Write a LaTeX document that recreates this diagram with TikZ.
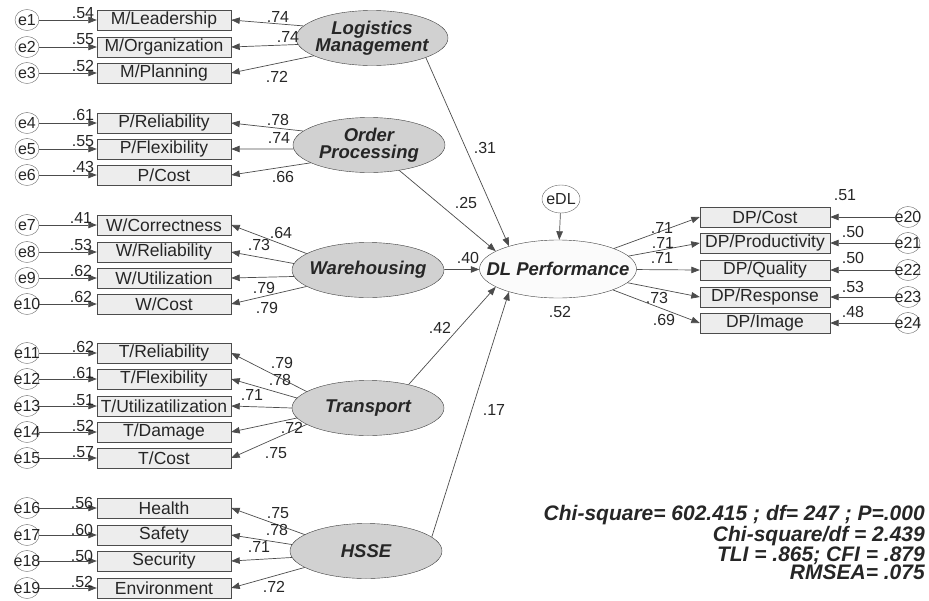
\documentclass[tikz,border=0pt]{standalone}
\usepackage{fontspec}
\setmainfont{Liberation Sans}
\usetikzlibrary{arrows.meta,shapes.geometric}

\begin{document}
\begin{tikzpicture}[x=1pt, y=-1pt,
  ind/.style={draw=black!70, fill=gray!14, minimum width=134pt, minimum height=20pt, inner sep=0pt,
              font=\fontsize{17.5}{18}\selectfont, text=black!85},
  dpind/.style={ind, minimum width=130pt},
  err/.style={ellipse, draw=black!60, fill=white, minimum width=24pt, minimum height=21pt, inner sep=0pt},
  lat/.style={ellipse, draw=black!75, fill=gray!36, minimum width=152pt, minimum height=55pt, inner sep=0pt},
  lattxt/.style={font=\fontsize{18.5}{17}\selectfont\bfseries\itshape, text=black!85, align=center, inner sep=0pt},
  coef/.style={font=\fontsize{16}{16}\selectfont, text=black!85, inner sep=0pt},
  arr/.style={-{Triangle[length=8.5pt,width=6.5pt]}, draw=black!70, line width=0.7pt},
  gofbox/.style={font=\fontsize{21}{17}\selectfont\bfseries\itshape, text=black!85, align=right, inner sep=0pt},
  every label/.style={font=\fontsize{16}{16}\selectfont, text=black!85, inner sep=0pt}]
\useasboundingbox (0,0) rectangle (929,600);

% ---------- Logistics Management ----------
\node[lat, label={[lattxt]center:{Logistics\\Management}}] (LM) at (372,38) {};
\node[ind] (m1) at (164,20) {M/Leadership};
\node[ind] (m2) at (164,47) {M/Organization};
\node[ind] (m3) at (164,73) {M/Planning};

% ---------- Order Processing ----------
\node[lat, label={[lattxt]center:{Order\\Processing}}] (OP) at (369,145) {};
\node[ind] (p1) at (164,123) {P/Reliability};
\node[ind] (p2) at (164,149) {P/Flexibility};
\node[ind] (p3) at (164,175) {P/Cost};

% ---------- Warehousing ----------
\node[lat, label={[lattxt]center:Warehousing}] (WH) at (368,270) {};
\node[ind] (w1) at (164,225) {W/Correctness};
\node[ind] (w2) at (164,252) {W/Reliability};
\node[ind] (w3) at (164,278) {W/Utilization};
\node[ind] (w4) at (164,304) {W/Cost};

% ---------- Transport ----------
\node[lat, label={[lattxt]center:Transport}] (TR) at (368,408) {};
\node[ind] (t1) at (164,353) {T/Reliability};
\node[ind] (t2) at (164,379) {T/Flexibility};
\node[ind] (t3) at (164,406) {T/Utilizatilization};
\node[ind] (t4) at (164,432) {T/Damage};
\node[ind] (t5) at (164,458) {T/Cost};

% ---------- HSSE ----------
\node[lat, label={[lattxt]center:HSSE}] (HS) at (366,551) {};
\node[ind] (h1) at (164,508) {Health};
\node[ind] (h2) at (164,535) {Safety};
\node[ind] (h3) at (164,561) {Security};
\node[ind] (h4) at (164,588) {Environment};

% ---------- DL Performance ----------
\node[lat, fill=gray!3, minimum width=157pt, minimum height=58pt, label={[lattxt]center:DL Performance}] (DL) at (558,269) {};
\node[err, minimum width=38pt, minimum height=28pt, label={center:eDL}] (eDL) at (561,199) {};
\node[dpind] (d1) at (765,217) {DP/Cost};
\node[dpind] (d2) at (765,243) {DP/Productivity};
\node[dpind] (d3) at (765,270) {DP/Quality};
\node[dpind] (d4) at (765,297) {DP/Response};
\node[dpind] (d5) at (765,323) {DP/Image};

% ---------- error terms ----------
\foreach \e/\y in {1/20, 2/47, 3/73, 4/123, 5/149, 6/175, 7/225, 8/252, 9/278, 10/304,
                   11/353, 12/379, 13/406, 14/432, 15/458, 16/508, 17/535, 18/561, 19/588}
  \node[err, label={center:e\e}] (e\e) at (27,\y) {};
\foreach \e/\y in {20/217, 21/243, 22/270, 23/297, 24/323}
  \node[err, label={center:e\e}] (e\e) at (908,\y) {};

\foreach \e/\b in {1/m1, 2/m2, 3/m3, 4/p1, 5/p2, 6/p3, 7/w1, 8/w2, 9/w3, 10/w4,
                   11/t1, 12/t2, 13/t3, 14/t4, 15/t5, 16/h1, 17/h2, 18/h3, 19/h4,
                   20/d1, 21/d2, 22/d3, 23/d4, 24/d5}
  \draw[arr] (e\e) -- (\b);

% ---------- loadings ----------
\foreach \b/\a in {m1/170, m2/185, m3/197}        \draw[arr] (LM.\a) -- (\b.east);
\foreach \b/\a in {p1/168, p2/183, p3/197}        \draw[arr] (OP.\a) -- (\b.east);
\foreach \b/\a in {w1/165, w2/175, w3/185, w4/195} \draw[arr] (WH.\a) -- (\b.east);
\foreach \b/\a in {t1/165, t2/172, t3/180, t4/188, t5/195} \draw[arr] (TR.\a) -- (\b.east);
\foreach \b/\a in {h1/165, h2/175, h3/185, h4/195} \draw[arr] (HS.\a) -- (\b.east);
\foreach \b in {d1,d2,d3,d4,d5}                   \draw[arr] (DL) -- (\b.west);

% ---------- structural paths ----------
\draw[arr] (LM.-20) -- (DL.155);
\draw[arr] (OP.-40) -- (DL.164);
\draw[arr] (WH) -- (DL);
\draw[arr] (TR.30) -- (DL.196);
\draw[arr] (HS.12) -- (DL.205);
\draw[arr] (eDL) -- (DL);

% ---------- coefficients ----------
\foreach \v/\x/\y [count=\k] in {.54/83/13, .55/83/39, .52/83/66, .61/83/115, .55/83/141, .43/83/167,
                   .41/81/218, .53/81/245, .62/81/271, .62/81/297,
                   .62/83/347, .61/83/373, .51/83/400, .52/83/426, .57/83/452,
                   .56/82/503, .60/82/530, .50/82/556, .52/82/582}
  \node[coef] (r\k) at (\x,\y) {\v};
\foreach \v/\x/\y [count=\k] in {.74/278/17, .74/288/37, .72/277/77,
                   .78/278/120, .74/279/138, .66/283/177,
                   .64/281/233, .73/259/245, .79/264/288, .79/267/308,
                   .79/282/363, .78/280/380, .71/252/395, .72/292/428, .75/276/453,
                   .75/278/513, .78/277/530, .71/259/547, .72/274/587,
                   .71/662/228, .71/663/243, .71/662/258, .73/657/298, .69/664/320}
  \node[coef] (l\k) at (\x,\y) {\v};
\foreach \v/\x/\y [count=\k] in {.51/845/195, .50/853/232, .50/853/258, .53/853/287, .48/853/312}
  \node[coef] (q\k) at (\x,\y) {\v};
\foreach \v/\x/\y [count=\k] in {.31/485/148, .25/466/203, .40/468/258, .42/440/328, .17/494/410, .52/560/312}
  \node[coef] (s\k) at (\x,\y) {\v};

% ---------- model fit ----------
\node[gofbox, anchor=north east] (gof) at (925,505)
  {Chi-square= 602.415 ; df= 247 ; P=.000\\Chi-square/df = 2.439\\TLI = .865; CFI = .879\\RMSEA= .075};
\end{tikzpicture}
\end{document}
